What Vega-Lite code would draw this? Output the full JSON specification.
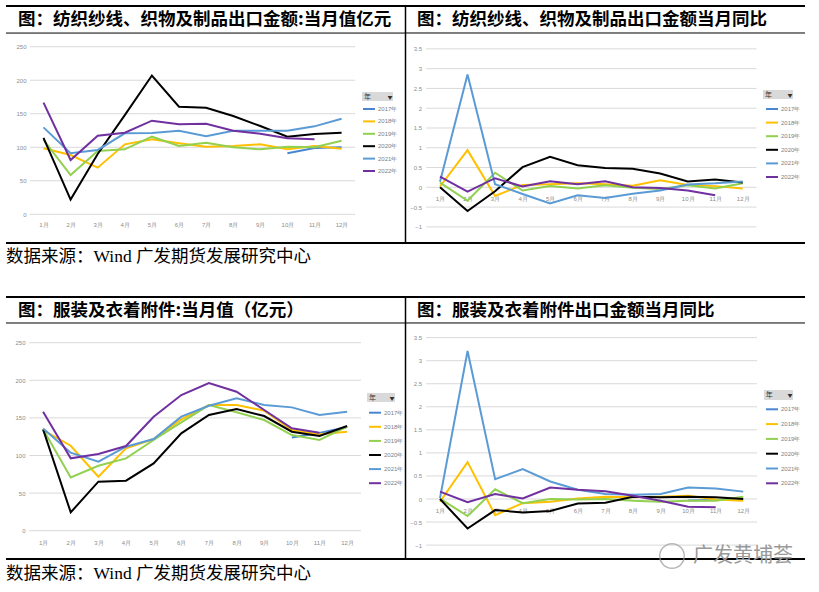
{
"$schema": "https://vega.github.io/schema/vega-lite/v6.json",
"padding": 0,
"spacing": 0,
"config": {
 "view": {"stroke": null},
 "axis": {"domain": false, "ticks": false, "grid": false, "labelFont": "Liberation Sans", "labelFontSize": 6, "labelColor": "#8c8c8c", "labelPadding": 2, "labelFlush": false, "labelOverlap": false, "tickCount": 30},
 "legend": {"symbolType": "stroke", "symbolStrokeWidth": 2, "symbolSize": 144, "labelFont": "Liberation Sans", "labelFontSize": 6, "labelColor": "#7f7f7f", "labelOffset": 2, "orient": "none", "padding": 0},
 "text": {"font": "Noto Sans CJK SC"}
},
"resolve": {"scale": {"color": "independent"}, "legend": {"color": "independent"}},
"datasets": {
 "gridAC": [{"g":0},{"g":50},{"g":100},{"g":150},{"g":200},{"g":250}],
 "gridBD": [{"g":-1},{"g":-0.5},{"g":0},{"g":0.5},{"g":1},{"g":1.5},{"g":2},{"g":2.5},{"g":3},{"g":3.5}],
 "one": [{"k":1}],
 "A": [
  {"year":"2017年","m":10,"v":91},{"year":"2017年","m":11,"v":99},{"year":"2017年","m":12,"v":100},
  {"year":"2018年","m":1,"v":98.4},{"year":"2018年","m":2,"v":88.5},{"year":"2018年","m":3,"v":69.6},{"year":"2018年","m":4,"v":104.4},{"year":"2018年","m":5,"v":111.8},{"year":"2018年","m":6,"v":105.9},{"year":"2018年","m":7,"v":100.9},{"year":"2018年","m":8,"v":101.9},{"year":"2018年","m":9,"v":104.4},{"year":"2018年","m":10,"v":96.9},{"year":"2018年","m":11,"v":101.9},{"year":"2018年","m":12,"v":97.9},
  {"year":"2019年","m":1,"v":111},{"year":"2019年","m":2,"v":58.6},{"year":"2019年","m":3,"v":94.4},{"year":"2019年","m":4,"v":96.9},{"year":"2019年","m":5,"v":115.8},{"year":"2019年","m":6,"v":101.9},{"year":"2019年","m":7,"v":106.9},{"year":"2019年","m":8,"v":99.9},{"year":"2019年","m":9,"v":96.9},{"year":"2019年","m":10,"v":100.9},{"year":"2019年","m":11,"v":99.9},{"year":"2019年","m":12,"v":109.8},
  {"year":"2020年","m":1,"v":114},{"year":"2020年","m":2,"v":22},{"year":"2020年","m":3,"v":90},{"year":"2020年","m":4,"v":148},{"year":"2020年","m":5,"v":207},{"year":"2020年","m":6,"v":160.5},{"year":"2020年","m":7,"v":159},{"year":"2020年","m":8,"v":146.6},{"year":"2020年","m":9,"v":131.7},{"year":"2020年","m":10,"v":115.8},{"year":"2020年","m":11,"v":119.8},{"year":"2020年","m":12,"v":121.8},
  {"year":"2021年","m":1,"v":129.7},{"year":"2021年","m":2,"v":91},{"year":"2021年","m":3,"v":96},{"year":"2021年","m":4,"v":120.8},{"year":"2021年","m":5,"v":121.3},{"year":"2021年","m":6,"v":124.8},{"year":"2021年","m":7,"v":116.3},{"year":"2021年","m":8,"v":124.8},{"year":"2021年","m":9,"v":124.8},{"year":"2021年","m":10,"v":124.8},{"year":"2021年","m":11,"v":131.2},{"year":"2021年","m":12,"v":142.6},
  {"year":"2022年","m":1,"v":166.5},{"year":"2022年","m":2,"v":81},{"year":"2022年","m":3,"v":117.3},{"year":"2022年","m":4,"v":121.8},{"year":"2022年","m":5,"v":139.7},{"year":"2022年","m":6,"v":134.2},{"year":"2022年","m":7,"v":135.2},{"year":"2022年","m":8,"v":124.8},{"year":"2022年","m":9,"v":120.3},{"year":"2022年","m":10,"v":113.3},{"year":"2022年","m":11,"v":111.8}
 ],
 "B": [
  {"year":"2018年","m":1,"v":0.02},{"year":"2018年","m":2,"v":0.94},{"year":"2018年","m":3,"v":-0.22},{"year":"2018年","m":4,"v":0.06},{"year":"2018年","m":5,"v":0.08},{"year":"2018年","m":6,"v":0.1},{"year":"2018年","m":7,"v":0.08},{"year":"2018年","m":8,"v":0.04},{"year":"2018年","m":9,"v":0.18},{"year":"2018年","m":10,"v":0.06},{"year":"2018年","m":11,"v":0.03},{"year":"2018年","m":12,"v":-0.03},
  {"year":"2019年","m":1,"v":0.12},{"year":"2019年","m":2,"v":-0.34},{"year":"2019年","m":3,"v":0.37},{"year":"2019年","m":4,"v":-0.08},{"year":"2019年","m":5,"v":0.03},{"year":"2019年","m":6,"v":-0.03},{"year":"2019年","m":7,"v":0.05},{"year":"2019年","m":8,"v":-0.01},{"year":"2019年","m":9,"v":-0.04},{"year":"2019年","m":10,"v":0.05},{"year":"2019年","m":11,"v":-0.03},{"year":"2019年","m":12,"v":0.1},
  {"year":"2020年","m":1,"v":0},{"year":"2020年","m":2,"v":-0.6},{"year":"2020年","m":3,"v":-0.1},{"year":"2020年","m":4,"v":0.51},{"year":"2020年","m":5,"v":0.77},{"year":"2020年","m":6,"v":0.56},{"year":"2020年","m":7,"v":0.49},{"year":"2020年","m":8,"v":0.47},{"year":"2020年","m":9,"v":0.35},{"year":"2020年","m":10,"v":0.15},{"year":"2020年","m":11,"v":0.2},{"year":"2020年","m":12,"v":0.12},
  {"year":"2021年","m":1,"v":0.14},{"year":"2021年","m":2,"v":2.85},{"year":"2021年","m":3,"v":0.08},{"year":"2021年","m":4,"v":-0.17},{"year":"2021年","m":5,"v":-0.41},{"year":"2021年","m":6,"v":-0.2},{"year":"2021年","m":7,"v":-0.27},{"year":"2021年","m":8,"v":-0.16},{"year":"2021年","m":9,"v":-0.08},{"year":"2021年","m":10,"v":0.07},{"year":"2021年","m":11,"v":0.1},{"year":"2021年","m":12,"v":0.15},
  {"year":"2022年","m":1,"v":0.27},{"year":"2022年","m":2,"v":-0.11},{"year":"2022年","m":3,"v":0.23},{"year":"2022年","m":4,"v":0.02},{"year":"2022年","m":5,"v":0.15},{"year":"2022年","m":6,"v":0.08},{"year":"2022年","m":7,"v":0.15},{"year":"2022年","m":8,"v":0},{"year":"2022年","m":9,"v":-0.02},{"year":"2022年","m":10,"v":-0.08},{"year":"2022年","m":11,"v":-0.2}
 ],
 "C": [
  {"year":"2017年","m":10,"v":124},{"year":"2017年","m":11,"v":130},{"year":"2017年","m":12,"v":138},
  {"year":"2018年","m":1,"v":133.9},{"year":"2018年","m":2,"v":113},{"year":"2018年","m":3,"v":71.8},{"year":"2018年","m":4,"v":109.5},{"year":"2018年","m":5,"v":121.9},{"year":"2018年","m":6,"v":148},{"year":"2018年","m":7,"v":167.1},{"year":"2018年","m":8,"v":167.1},{"year":"2018年","m":9,"v":159.6},{"year":"2018年","m":10,"v":133.9},{"year":"2018年","m":11,"v":128.1},{"year":"2018年","m":12,"v":131.6},
  {"year":"2019年","m":1,"v":134.8},{"year":"2019年","m":2,"v":70.9},{"year":"2019年","m":3,"v":86.4},{"year":"2019年","m":4,"v":96.2},{"year":"2019年","m":5,"v":120.6},{"year":"2019年","m":6,"v":144.1},{"year":"2019年","m":7,"v":167.1},{"year":"2019年","m":8,"v":157.4},{"year":"2019年","m":9,"v":147.2},{"year":"2019年","m":10,"v":127.2},{"year":"2019年","m":11,"v":120.6},{"year":"2019年","m":12,"v":138.3},
  {"year":"2020年","m":1,"v":134.8},{"year":"2020年","m":2,"v":24.4},{"year":"2020年","m":3,"v":65.2},{"year":"2020年","m":4,"v":66.5},{"year":"2020年","m":5,"v":89.5},{"year":"2020年","m":6,"v":129.4},{"year":"2020年","m":7,"v":153.8},{"year":"2020年","m":8,"v":161.8},{"year":"2020年","m":9,"v":152.5},{"year":"2020年","m":10,"v":131.6},{"year":"2020年","m":11,"v":125.9},{"year":"2020年","m":12,"v":139.2},
  {"year":"2021年","m":1,"v":136},{"year":"2021年","m":2,"v":103.7},{"year":"2021年","m":3,"v":91.8},{"year":"2021年","m":4,"v":111.7},{"year":"2021年","m":5,"v":121.9},{"year":"2021年","m":6,"v":151.6},{"year":"2021年","m":7,"v":166.2},{"year":"2021年","m":8,"v":176},{"year":"2021年","m":9,"v":167.1},{"year":"2021年","m":10,"v":164},{"year":"2021年","m":11,"v":153.8},{"year":"2021年","m":12,"v":158.2},
  {"year":"2022年","m":1,"v":158.2},{"year":"2022年","m":2,"v":96.2},{"year":"2022年","m":3,"v":102},{"year":"2022年","m":4,"v":112.6},{"year":"2022年","m":5,"v":151.6},{"year":"2022年","m":6,"v":180.4},{"year":"2022年","m":7,"v":196.4},{"year":"2022年","m":8,"v":184.8},{"year":"2022年","m":9,"v":160.5},{"year":"2022年","m":10,"v":136.1},{"year":"2022年","m":11,"v":130.3}
 ],
 "D": [
  {"year":"2017年","m":10,"v":-0.03},{"year":"2017年","m":11,"v":-0.02},
  {"year":"2018年","m":1,"v":-0.06},{"year":"2018年","m":2,"v":0.8},{"year":"2018年","m":3,"v":-0.35},{"year":"2018年","m":4,"v":-0.09},{"year":"2018年","m":5,"v":-0.06},{"year":"2018年","m":6,"v":0.01},{"year":"2018年","m":7,"v":0.05},{"year":"2018年","m":8,"v":0.04},{"year":"2018年","m":9,"v":0.05},{"year":"2018年","m":10,"v":0.07},{"year":"2018年","m":11,"v":-0.01},{"year":"2018年","m":12,"v":-0.04},
  {"year":"2019年","m":1,"v":0.01},{"year":"2019年","m":2,"v":-0.37},{"year":"2019年","m":3,"v":0.21},{"year":"2019年","m":4,"v":-0.09},{"year":"2019年","m":5,"v":0},{"year":"2019年","m":6,"v":-0.01},{"year":"2019年","m":7,"v":0},{"year":"2019年","m":8,"v":-0.04},{"year":"2019年","m":9,"v":-0.06},{"year":"2019年","m":10,"v":-0.04},{"year":"2019年","m":11,"v":-0.04},{"year":"2019年","m":12,"v":0.05},
  {"year":"2020年","m":1,"v":0},{"year":"2020年","m":2,"v":-0.64},{"year":"2020年","m":3,"v":-0.24},{"year":"2020年","m":4,"v":-0.29},{"year":"2020年","m":5,"v":-0.26},{"year":"2020年","m":6,"v":-0.1},{"year":"2020年","m":7,"v":-0.08},{"year":"2020年","m":8,"v":0.05},{"year":"2020年","m":9,"v":0.04},{"year":"2020年","m":10,"v":0.05},{"year":"2020年","m":11,"v":0.04},{"year":"2020年","m":12,"v":0},
  {"year":"2021年","m":1,"v":0.02},{"year":"2021年","m":2,"v":3.21},{"year":"2021年","m":3,"v":0.43},{"year":"2021年","m":4,"v":0.65},{"year":"2021年","m":5,"v":0.38},{"year":"2021年","m":6,"v":0.2},{"year":"2021年","m":7,"v":0.11},{"year":"2021年","m":8,"v":0.09},{"year":"2021年","m":9,"v":0.11},{"year":"2021年","m":10,"v":0.25},{"year":"2021年","m":11,"v":0.23},{"year":"2021年","m":12,"v":0.16},
  {"year":"2022年","m":1,"v":0.16},{"year":"2022年","m":2,"v":-0.07},{"year":"2022年","m":3,"v":0.11},{"year":"2022年","m":4,"v":0.01},{"year":"2022年","m":5,"v":0.25},{"year":"2022年","m":6,"v":0.2},{"year":"2022年","m":7,"v":0.17},{"year":"2022年","m":8,"v":0.07},{"year":"2022年","m":9,"v":-0.04},{"year":"2022年","m":10,"v":-0.17},{"year":"2022年","m":11,"v":-0.18}
 ]
},
"vconcat": [
 {"hconcat": [
  {"width": 405, "height": 292, "layer": [
   {"data": {"name": "gridAC"}, "mark": {"type": "rule", "color": "#d9d9d9", "strokeWidth": 1},
    "encoding": {"x": {"datum": 0.5, "type": "quantitative", "scale": {"domain": [-0.605, 14.34], "nice": false, "zero": false}}, "x2": {"datum": 12.5},
     "y": {"field": "g", "type": "quantitative", "scale": {"domain": [-115.9, 319.7], "nice": false, "zero": false}, "axis": {"values": [0,50,100,150,200,250], "tickCount": 30, "offset": -28, "title": null, "labelOverlap": false}}}},
   {"data": {"name": "A"}, "mark": {"type": "line", "strokeWidth": 2},
    "encoding": {"x": {"field": "m", "type": "quantitative", "scale": {"domain": [-0.605, 14.34], "nice": false, "zero": false}, "axis": {"values": [1,2,3,4,5,6,7,8,9,10,11,12], "tickCount": 30, "labelExpr": "datum.value + '月'", "offset": -73, "title": null, "labelOverlap": false}},
     "y": {"field": "v", "type": "quantitative", "scale": {"domain": [-115.9, 319.7], "nice": false, "zero": false}},
     "color": {"field": "year", "type": "nominal", "scale": {"domain": ["2017年","2018年","2019年","2020年","2021年","2022年"], "range": ["#4a86cf","#ffc000","#92d050","#000000","#5b9bd5","#7030a0"]}, "legend": {"title": null, "legendX": 362, "legendY": 102, "rowPadding": 1.4}}}},
   {"data": {"name": "one"}, "mark": {"type": "rect", "fill": "#d9d9d9"},
    "encoding": {"x": {"datum": 12.753, "type": "quantitative", "scale": {"domain": [-0.605, 14.34], "nice": false, "zero": false}}, "x2": {"datum": 13.897},
     "y": {"datum": 182.4, "type": "quantitative", "scale": {"domain": [-115.9, 319.7], "nice": false, "zero": false}}, "y2": {"datum": 169.0}}},
   {"data": {"name": "one"}, "mark": {"type": "text", "fontSize": 7, "align": "left", "baseline": "middle", "color": "#333333"},
    "encoding": {"x": {"datum": 12.83, "type": "quantitative", "scale": {"domain": [-0.605, 14.34], "nice": false, "zero": false}},
     "y": {"datum": 175.7, "type": "quantitative", "scale": {"domain": [-115.9, 319.7], "nice": false, "zero": false}}, "text": {"value": "年"}}},
   {"data": {"name": "one"}, "mark": {"type": "text", "fontSize": 5, "align": "center", "baseline": "middle", "color": "#333333"},
    "encoding": {"x": {"datum": 13.786, "type": "quantitative", "scale": {"domain": [-0.605, 14.34], "nice": false, "zero": false}},
     "y": {"datum": 175.7, "type": "quantitative", "scale": {"domain": [-115.9, 319.7], "nice": false, "zero": false}}, "text": {"value": "▼"}}},
   {"data": {"name": "one"}, "mark": {"type": "rule", "color": "#000000", "strokeWidth": 2},
    "encoding": {"x": {"datum": -0.384, "type": "quantitative", "scale": {"domain": [-0.605, 14.34], "nice": false, "zero": false}}, "x2": {"datum": 14.34},
     "y": {"datum": 310.7, "type": "quantitative", "scale": {"domain": [-115.9, 319.7], "nice": false, "zero": false}}}},
   {"data": {"name": "one"}, "mark": {"type": "rule", "color": "#000000", "strokeWidth": 1},
    "encoding": {"x": {"datum": -0.384, "type": "quantitative", "scale": {"domain": [-0.605, 14.34], "nice": false, "zero": false}}, "x2": {"datum": 14.34},
     "y": {"datum": 270.4, "type": "quantitative", "scale": {"domain": [-115.9, 319.7], "nice": false, "zero": false}}}},
   {"data": {"name": "one"}, "mark": {"type": "rule", "color": "#000000", "strokeWidth": 2},
    "encoding": {"x": {"datum": -0.384, "type": "quantitative", "scale": {"domain": [-0.605, 14.34], "nice": false, "zero": false}}, "x2": {"datum": 14.34},
     "y": {"datum": -42.8, "type": "quantitative", "scale": {"domain": [-115.9, 319.7], "nice": false, "zero": false}}}},
   {"data": {"name": "one"}, "mark": {"type": "text", "fontSize": 17.5, "fontWeight": "bold", "align": "left", "baseline": "middle", "color": "#000000"},
    "encoding": {"x": {"datum": 0.059, "type": "quantitative", "scale": {"domain": [-0.605, 14.34], "nice": false, "zero": false}},
     "y": {"datum": 289.8, "type": "quantitative", "scale": {"domain": [-115.9, 319.7], "nice": false, "zero": false}}, "text": {"value": "图：纺织纱线、织物及制品出口金额:当月值亿元"}}},
   {"data": {"name": "one"}, "mark": {"type": "text", "fontSize": 17.5, "font": "Liberation Serif, Noto Sans CJK SC", "align": "left", "baseline": "middle", "color": "#000000"},
    "encoding": {"x": {"datum": -0.384, "type": "quantitative", "scale": {"domain": [-0.605, 14.34], "nice": false, "zero": false}},
     "y": {"datum": -63.7, "type": "quantitative", "scale": {"domain": [-115.9, 319.7], "nice": false, "zero": false}}, "text": {"value": "数据来源：Wind 广发期货发展研究中心"}}}
  ]},
  {"width": 414, "height": 292, "layer": [
   {"data": {"name": "gridBD"}, "mark": {"type": "rule", "color": "#d9d9d9", "strokeWidth": 1},
    "encoding": {"x": {"datum": 0.5, "type": "quantitative", "scale": {"domain": [-0.272, 14.772], "nice": false, "zero": false}}, "x2": {"datum": 12.5},
     "y": {"field": "g", "type": "quantitative", "scale": {"domain": [-2.647, 4.736], "nice": false, "zero": false}, "axis": {"values": [-1,-0.5,0,0.5,1,1.5,2,2.5,3,3.5], "tickCount": 30, "format": "~g", "offset": -18.5, "title": null, "labelOverlap": false}}}},
   {"data": {"name": "B"}, "mark": {"type": "line", "strokeWidth": 2},
    "encoding": {"x": {"field": "m", "type": "quantitative", "scale": {"domain": [-0.272, 14.772], "nice": false, "zero": false}, "axis": {"values": [1,2,3,4,5,6,7,8,9,10,11,12], "tickCount": 30, "labelExpr": "datum.value + '月'", "offset": -99, "title": null, "labelOverlap": false}},
     "y": {"field": "v", "type": "quantitative", "scale": {"domain": [-2.647, 4.736], "nice": false, "zero": false}},
     "color": {"field": "year", "type": "nominal", "scale": {"domain": ["2017年","2018年","2019年","2020年","2021年","2022年"], "range": ["#4a86cf","#ffc000","#92d050","#000000","#5b9bd5","#7030a0"]}, "legend": {"title": null, "legendX": 360, "legendY": 102, "rowPadding": 2.6}}}},
   {"data": {"name": "one"}, "mark": {"type": "rect", "fill": "#d9d9d9"},
    "encoding": {"x": {"datum": 12.737, "type": "quantitative", "scale": {"domain": [-0.272, 14.772], "nice": false, "zero": false}}, "x2": {"datum": 13.827},
     "y": {"datum": 2.46, "type": "quantitative", "scale": {"domain": [-2.647, 4.736], "nice": false, "zero": false}}, "y2": {"datum": 2.233}}},
   {"data": {"name": "one"}, "mark": {"type": "text", "fontSize": 7, "align": "left", "baseline": "middle", "color": "#333333"},
    "encoding": {"x": {"datum": 12.81, "type": "quantitative", "scale": {"domain": [-0.272, 14.772], "nice": false, "zero": false}},
     "y": {"datum": 2.346, "type": "quantitative", "scale": {"domain": [-2.647, 4.736], "nice": false, "zero": false}}, "text": {"value": "年"}}},
   {"data": {"name": "one"}, "mark": {"type": "text", "fontSize": 5, "align": "center", "baseline": "middle", "color": "#333333"},
    "encoding": {"x": {"datum": 13.718, "type": "quantitative", "scale": {"domain": [-0.272, 14.772], "nice": false, "zero": false}},
     "y": {"datum": 2.346, "type": "quantitative", "scale": {"domain": [-2.647, 4.736], "nice": false, "zero": false}}, "text": {"value": "▼"}}},
   {"data": {"name": "one"}, "mark": {"type": "rule", "color": "#000000", "strokeWidth": 2},
    "encoding": {"x": {"datum": -0.272, "type": "quantitative", "scale": {"domain": [-0.272, 14.772], "nice": false, "zero": false}}, "x2": {"datum": 14.263},
     "y": {"datum": 4.584, "type": "quantitative", "scale": {"domain": [-2.647, 4.736], "nice": false, "zero": false}}}},
   {"data": {"name": "one"}, "mark": {"type": "rule", "color": "#000000", "strokeWidth": 1},
    "encoding": {"x": {"datum": -0.272, "type": "quantitative", "scale": {"domain": [-0.272, 14.772], "nice": false, "zero": false}}, "x2": {"datum": 14.263},
     "y": {"datum": 3.902, "type": "quantitative", "scale": {"domain": [-2.647, 4.736], "nice": false, "zero": false}}}},
   {"data": {"name": "one"}, "mark": {"type": "rule", "color": "#000000", "strokeWidth": 2},
    "encoding": {"x": {"datum": -0.272, "type": "quantitative", "scale": {"domain": [-0.272, 14.772], "nice": false, "zero": false}}, "x2": {"datum": 14.263},
     "y": {"datum": -1.408, "type": "quantitative", "scale": {"domain": [-2.647, 4.736], "nice": false, "zero": false}}}},
   {"data": {"name": "one"}, "mark": {"type": "rule", "color": "#000000", "strokeWidth": 1.5},
    "encoding": {"x": {"datum": -0.254, "type": "quantitative", "scale": {"domain": [-0.272, 14.772], "nice": false, "zero": false}},
     "y": {"datum": 4.584, "type": "quantitative", "scale": {"domain": [-2.647, 4.736], "nice": false, "zero": false}}, "y2": {"datum": -1.408}}},
   {"data": {"name": "one"}, "mark": {"type": "text", "fontSize": 17.5, "fontWeight": "bold", "align": "left", "baseline": "middle", "color": "#000000"},
    "encoding": {"x": {"datum": 0.164, "type": "quantitative", "scale": {"domain": [-0.272, 14.772], "nice": false, "zero": false}},
     "y": {"datum": 4.23, "type": "quantitative", "scale": {"domain": [-2.647, 4.736], "nice": false, "zero": false}}, "text": {"value": "图：纺织纱线、织物及制品出口金额当月同比"}}}
  ]}
 ], "spacing": 0, "bounds": "flush", "resolve": {"scale": {"color": "independent"}, "legend": {"color": "independent"}}},
 {"hconcat": [
  {"width": 405, "height": 300, "layer": [
   {"data": {"name": "gridAC"}, "mark": {"type": "rule", "color": "#d9d9d9", "strokeWidth": 1},
    "encoding": {"x": {"datum": 0.5, "type": "quantitative", "scale": {"domain": [-0.559, 14.094], "nice": false, "zero": false}}, "x2": {"datum": 12.5},
     "y": {"field": "g", "type": "quantitative", "scale": {"domain": [-81.5, 317.4], "nice": false, "zero": false}, "axis": {"values": [0,50,100,150,200,250], "tickCount": 30, "offset": -27, "title": null, "labelOverlap": false}}}},
   {"data": {"name": "C"}, "mark": {"type": "line", "strokeWidth": 2},
    "encoding": {"x": {"field": "m", "type": "quantitative", "scale": {"domain": [-0.559, 14.094], "nice": false, "zero": false}, "axis": {"values": [1,2,3,4,5,6,7,8,9,10,11,12], "tickCount": 30, "labelExpr": "datum.value + '月'", "offset": -55, "title": null, "labelOverlap": false}},
     "y": {"field": "v", "type": "quantitative", "scale": {"domain": [-81.5, 317.4], "nice": false, "zero": false}},
     "color": {"field": "year", "type": "nominal", "scale": {"domain": ["2017年","2018年","2019年","2020年","2021年","2022年"], "range": ["#4a86cf","#ffc000","#92d050","#000000","#5b9bd5","#7030a0"]}, "legend": {"title": null, "legendX": 368, "legendY": 113.7, "rowPadding": 3.1}}}},
   {"data": {"name": "one"}, "mark": {"type": "rect", "fill": "#d9d9d9"},
    "encoding": {"x": {"datum": 12.719, "type": "quantitative", "scale": {"domain": [-0.559, 14.094], "nice": false, "zero": false}}, "x2": {"datum": 13.732},
     "y": {"datum": 183.1, "type": "quantitative", "scale": {"domain": [-81.5, 317.4], "nice": false, "zero": false}}, "y2": {"datum": 171.1}}},
   {"data": {"name": "one"}, "mark": {"type": "text", "fontSize": 7, "align": "left", "baseline": "middle", "color": "#333333"},
    "encoding": {"x": {"datum": 12.79, "type": "quantitative", "scale": {"domain": [-0.559, 14.094], "nice": false, "zero": false}},
     "y": {"datum": 177.1, "type": "quantitative", "scale": {"domain": [-81.5, 317.4], "nice": false, "zero": false}}, "text": {"value": "年"}}},
   {"data": {"name": "one"}, "mark": {"type": "text", "fontSize": 5, "align": "center", "baseline": "middle", "color": "#333333"},
    "encoding": {"x": {"datum": 13.623, "type": "quantitative", "scale": {"domain": [-0.559, 14.094], "nice": false, "zero": false}},
     "y": {"datum": 177.1, "type": "quantitative", "scale": {"domain": [-81.5, 317.4], "nice": false, "zero": false}}, "text": {"value": "▼"}}},
   {"data": {"name": "one"}, "mark": {"type": "rule", "color": "#000000", "strokeWidth": 2},
    "encoding": {"x": {"datum": -0.342, "type": "quantitative", "scale": {"domain": [-0.559, 14.094], "nice": false, "zero": false}}, "x2": {"datum": 14.094},
     "y": {"datum": 310.8, "type": "quantitative", "scale": {"domain": [-81.5, 317.4], "nice": false, "zero": false}}}},
   {"data": {"name": "one"}, "mark": {"type": "rule", "color": "#000000", "strokeWidth": 1},
    "encoding": {"x": {"datum": -0.342, "type": "quantitative", "scale": {"domain": [-0.559, 14.094], "nice": false, "zero": false}}, "x2": {"datum": 14.094},
     "y": {"datum": 276.2, "type": "quantitative", "scale": {"domain": [-81.5, 317.4], "nice": false, "zero": false}}}},
   {"data": {"name": "one"}, "mark": {"type": "rule", "color": "#000000", "strokeWidth": 2},
    "encoding": {"x": {"datum": -0.342, "type": "quantitative", "scale": {"domain": [-0.559, 14.094], "nice": false, "zero": false}}, "x2": {"datum": 14.094},
     "y": {"datum": -37.6, "type": "quantitative", "scale": {"domain": [-81.5, 317.4], "nice": false, "zero": false}}}},
   {"data": {"name": "one"}, "mark": {"type": "text", "fontSize": 17.5, "fontWeight": "bold", "align": "left", "baseline": "middle", "color": "#000000"},
    "encoding": {"x": {"datum": 0.092, "type": "quantitative", "scale": {"domain": [-0.559, 14.094], "nice": false, "zero": false}},
     "y": {"datum": 292.2, "type": "quantitative", "scale": {"domain": [-81.5, 317.4], "nice": false, "zero": false}}, "text": {"value": "图：服装及衣着附件:当月值（亿元）"}}},
   {"data": {"name": "one"}, "mark": {"type": "text", "fontSize": 17.5, "font": "Liberation Serif, Noto Sans CJK SC", "align": "left", "baseline": "middle", "color": "#000000"},
    "encoding": {"x": {"datum": -0.342, "type": "quantitative", "scale": {"domain": [-0.559, 14.094], "nice": false, "zero": false}},
     "y": {"datum": -57.6, "type": "quantitative", "scale": {"domain": [-81.5, 317.4], "nice": false, "zero": false}}, "text": {"value": "数据来源：Wind 广发期货发展研究中心"}}}
  ]},
  {"width": 414, "height": 300, "layer": [
   {"data": {"name": "gridBD"}, "mark": {"type": "rule", "color": "#d9d9d9", "strokeWidth": 1},
    "encoding": {"x": {"datum": 0.5, "type": "quantitative", "scale": {"domain": [-0.2695, 14.747], "nice": false, "zero": false}}, "x2": {"datum": 12.5},
     "y": {"field": "g", "type": "quantitative", "scale": {"domain": [-2.017, 4.49], "nice": false, "zero": false}, "axis": {"values": [-1,-0.5,0,0.5,1,1.5,2,2.5,3,3.5], "tickCount": 30, "format": "~g", "offset": -18.7, "title": null, "labelOverlap": false}}}},
   {"data": {"name": "D"}, "mark": {"type": "line", "strokeWidth": 2},
    "encoding": {"x": {"field": "m", "type": "quantitative", "scale": {"domain": [-0.2695, 14.747], "nice": false, "zero": false}, "axis": {"values": [1,2,3,4,5,6,7,8,9,10,11,12], "tickCount": 30, "labelExpr": "datum.value + '月'", "offset": -87, "title": null, "labelOverlap": false}},
     "y": {"field": "v", "type": "quantitative", "scale": {"domain": [-2.017, 4.49], "nice": false, "zero": false}},
     "color": {"field": "year", "type": "nominal", "scale": {"domain": ["2017年","2018年","2019年","2020年","2021年","2022年"], "range": ["#4a86cf","#ffc000","#92d050","#000000","#5b9bd5","#7030a0"]}, "legend": {"title": null, "legendX": 360, "legendY": 110.3, "rowPadding": 3.8}}}},
   {"data": {"name": "one"}, "mark": {"type": "rect", "fill": "#d9d9d9"},
    "encoding": {"x": {"datum": 12.752, "type": "quantitative", "scale": {"domain": [-0.2695, 14.747], "nice": false, "zero": false}}, "x2": {"datum": 13.804},
     "y": {"datum": 2.364, "type": "quantitative", "scale": {"domain": [-2.017, 4.49], "nice": false, "zero": false}}, "y2": {"datum": 2.148}}},
   {"data": {"name": "one"}, "mark": {"type": "text", "fontSize": 7, "align": "left", "baseline": "middle", "color": "#333333"},
    "encoding": {"x": {"datum": 12.82, "type": "quantitative", "scale": {"domain": [-0.2695, 14.747], "nice": false, "zero": false}},
     "y": {"datum": 2.256, "type": "quantitative", "scale": {"domain": [-2.017, 4.49], "nice": false, "zero": false}}, "text": {"value": "年"}}},
   {"data": {"name": "one"}, "mark": {"type": "text", "fontSize": 5, "align": "center", "baseline": "middle", "color": "#333333"},
    "encoding": {"x": {"datum": 13.695, "type": "quantitative", "scale": {"domain": [-0.2695, 14.747], "nice": false, "zero": false}},
     "y": {"datum": 2.256, "type": "quantitative", "scale": {"domain": [-2.017, 4.49], "nice": false, "zero": false}}, "text": {"value": "▼"}}},
   {"data": {"name": "one"}, "mark": {"type": "rule", "color": "#000000", "strokeWidth": 2},
    "encoding": {"x": {"datum": -0.2695, "type": "quantitative", "scale": {"domain": [-0.2695, 14.747], "nice": false, "zero": false}}, "x2": {"datum": 14.239},
     "y": {"datum": 4.382, "type": "quantitative", "scale": {"domain": [-2.017, 4.49], "nice": false, "zero": false}}}},
   {"data": {"name": "one"}, "mark": {"type": "rule", "color": "#000000", "strokeWidth": 1},
    "encoding": {"x": {"datum": -0.2695, "type": "quantitative", "scale": {"domain": [-0.2695, 14.747], "nice": false, "zero": false}}, "x2": {"datum": 14.239},
     "y": {"datum": 3.818, "type": "quantitative", "scale": {"domain": [-2.017, 4.49], "nice": false, "zero": false}}}},
   {"data": {"name": "one"}, "mark": {"type": "rule", "color": "#000000", "strokeWidth": 2},
    "encoding": {"x": {"datum": -0.2695, "type": "quantitative", "scale": {"domain": [-0.2695, 14.747], "nice": false, "zero": false}}, "x2": {"datum": 14.239},
     "y": {"datum": -1.302, "type": "quantitative", "scale": {"domain": [-2.017, 4.49], "nice": false, "zero": false}}}},
   {"data": {"name": "one"}, "mark": {"type": "rule", "color": "#000000", "strokeWidth": 1.5},
    "encoding": {"x": {"datum": -0.251, "type": "quantitative", "scale": {"domain": [-0.2695, 14.747], "nice": false, "zero": false}},
     "y": {"datum": 4.382, "type": "quantitative", "scale": {"domain": [-2.017, 4.49], "nice": false, "zero": false}}, "y2": {"datum": -1.302}}},
   {"data": {"name": "one"}, "mark": {"type": "text", "fontSize": 17.5, "fontWeight": "bold", "align": "left", "baseline": "middle", "color": "#000000"},
    "encoding": {"x": {"datum": 0.166, "type": "quantitative", "scale": {"domain": [-0.2695, 14.747], "nice": false, "zero": false}},
     "y": {"datum": 4.078, "type": "quantitative", "scale": {"domain": [-2.017, 4.49], "nice": false, "zero": false}}, "text": {"value": "图：服装及衣着附件出口金额当月同比"}}},
   {"data": {"name": "one"}, "mark": {"type": "point", "shape": "circle", "size": 600, "stroke": "#9a9a9a", "strokeWidth": 1.5, "filled": false},
    "encoding": {"x": {"datum": 9.415, "type": "quantitative", "scale": {"domain": [-0.2695, 14.747], "nice": false, "zero": false}},
     "y": {"datum": -1.236, "type": "quantitative", "scale": {"domain": [-2.017, 4.49], "nice": false, "zero": false}}}},
   {"data": {"name": "one"}, "mark": {"type": "text", "fontSize": 20, "align": "left", "baseline": "middle", "color": "#9a9a9a"},
    "encoding": {"x": {"datum": 10.177, "type": "quantitative", "scale": {"domain": [-0.2695, 14.747], "nice": false, "zero": false}},
     "y": {"datum": -1.236, "type": "quantitative", "scale": {"domain": [-2.017, 4.49], "nice": false, "zero": false}}, "text": {"value": "广发黄埔荟"}}}
  ]}
 ], "spacing": 0, "bounds": "flush", "resolve": {"scale": {"color": "independent"}, "legend": {"color": "independent"}}}
]
}
